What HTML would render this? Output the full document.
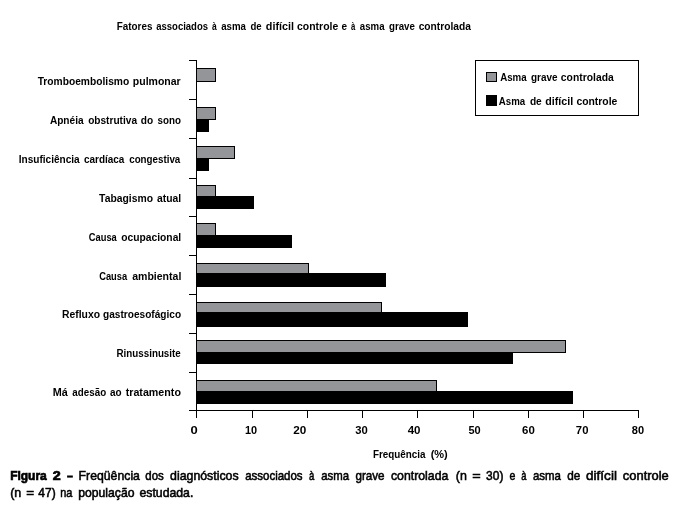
<!DOCTYPE html>
<html lang="pt">
<head>
<meta charset="utf-8">
<title>Figura 2</title>
<style>
html,body{margin:0;padding:0;background:#fff;}
body{width:676px;height:509px;overflow:hidden;}
svg{display:block;font-family:"Liberation Sans", "DejaVu Sans", sans-serif;fill:#000;}
svg rect{shape-rendering:crispEdges;}
svg text{white-space:pre;}
svg text.t{font-weight:bold;}
svg text.c{stroke:#000;stroke-width:0.55px;}
svg tspan.b{font-weight:bold;stroke-width:0.7px;}
</style>
</head>
<body>
<svg width="676" height="509" viewBox="0 0 676 509">
<rect x="0" y="0" width="676" height="509" fill="#fff"/>
<!-- title -->
<text class="t" y="30.00" font-size="11.6"><tspan x="116.78" textLength="35.66" lengthAdjust="spacingAndGlyphs">Fatores</tspan> <tspan x="156.18" textLength="51.88" lengthAdjust="spacingAndGlyphs">associados</tspan> <tspan x="212.07" textLength="4.75" lengthAdjust="spacingAndGlyphs">à</tspan> <tspan x="221.18" textLength="24.69" lengthAdjust="spacingAndGlyphs">asma</tspan> <tspan x="250.48" textLength="11.21" lengthAdjust="spacingAndGlyphs">de</tspan> <tspan x="265.87" textLength="28.22" lengthAdjust="spacingAndGlyphs">difícil</tspan> <tspan x="297.05" textLength="41.17" lengthAdjust="spacingAndGlyphs">controle</tspan> <tspan x="341.60" textLength="5.58" lengthAdjust="spacingAndGlyphs">e</tspan> <tspan x="351.09" textLength="4.32" lengthAdjust="spacingAndGlyphs">à</tspan> <tspan x="359.87" textLength="24.68" lengthAdjust="spacingAndGlyphs">asma</tspan> <tspan x="389.00" textLength="25.93" lengthAdjust="spacingAndGlyphs">grave</tspan> <tspan x="418.63" textLength="52.21" lengthAdjust="spacingAndGlyphs">controlada</tspan></text>
<!-- axes -->
<rect x="196" y="60" width="1" height="351"/>
<rect x="189" y="60" width="7" height="1"/>
<rect x="189" y="99" width="7" height="1"/>
<rect x="189" y="138" width="7" height="1"/>
<rect x="189" y="178" width="7" height="1"/>
<rect x="189" y="216" width="7" height="1"/>
<rect x="189" y="255" width="7" height="1"/>
<rect x="189" y="294" width="7" height="1"/>
<rect x="189" y="333" width="7" height="1"/>
<rect x="189" y="372" width="7" height="1"/>
<rect x="189" y="410" width="450" height="1"/>
<rect x="196" y="411" width="1" height="7"/>
<rect x="252" y="411" width="1" height="7"/>
<rect x="307" y="411" width="1" height="7"/>
<rect x="362" y="411" width="1" height="7"/>
<rect x="417" y="411" width="1" height="7"/>
<rect x="473" y="411" width="1" height="7"/>
<rect x="528" y="411" width="1" height="7"/>
<rect x="583" y="411" width="1" height="7"/>
<rect x="638" y="411" width="1" height="7"/>
<!-- bars -->
<rect x="196" y="68" width="20" height="14"/>
<rect x="197" y="69" width="18" height="12" fill="#939598"/>
<rect x="196" y="107" width="20" height="13"/>
<rect x="197" y="108" width="18" height="11" fill="#939598"/>
<rect x="196" y="119" width="13" height="13"/>
<rect x="196" y="146" width="39" height="13"/>
<rect x="197" y="147" width="37" height="11" fill="#939598"/>
<rect x="196" y="158" width="13" height="13"/>
<rect x="196" y="185" width="20" height="12"/>
<rect x="197" y="186" width="18" height="10" fill="#939598"/>
<rect x="196" y="196" width="58" height="13"/>
<rect x="196" y="223" width="20" height="13"/>
<rect x="197" y="224" width="18" height="11" fill="#939598"/>
<rect x="196" y="235" width="96" height="13"/>
<rect x="196" y="263" width="113" height="11"/>
<rect x="197" y="264" width="111" height="9" fill="#939598"/>
<rect x="196" y="273" width="190" height="14"/>
<rect x="196" y="302" width="186" height="11"/>
<rect x="197" y="303" width="184" height="9" fill="#939598"/>
<rect x="196" y="312" width="272" height="15"/>
<rect x="196" y="340" width="370" height="13"/>
<rect x="197" y="341" width="368" height="11" fill="#939598"/>
<rect x="196" y="352" width="317" height="12"/>
<rect x="196" y="380" width="241" height="12"/>
<rect x="197" y="381" width="239" height="10" fill="#939598"/>
<rect x="196" y="391" width="377" height="13"/>
<!-- category labels -->
<text class="t" y="85.00" font-size="11.6"><tspan x="37.63" textLength="91.59" lengthAdjust="spacingAndGlyphs">Tromboembolismo</tspan> <tspan x="132.86" textLength="47.82" lengthAdjust="spacingAndGlyphs">pulmonar</tspan></text>
<text class="t" y="124.00" font-size="11.6"><tspan x="49.88" textLength="33.68" lengthAdjust="spacingAndGlyphs">Apnéia</tspan> <tspan x="88.15" textLength="48.89" lengthAdjust="spacingAndGlyphs">obstrutiva</tspan> <tspan x="140.83" textLength="12.37" lengthAdjust="spacingAndGlyphs">do</tspan> <tspan x="157.48" textLength="23.42" lengthAdjust="spacingAndGlyphs">sono</tspan></text>
<text class="t" y="163.20" font-size="11.6"><tspan x="18.73" textLength="60.98" lengthAdjust="spacingAndGlyphs">Insuficiência</tspan> <tspan x="84.00" textLength="40.41" lengthAdjust="spacingAndGlyphs">cardíaca</tspan> <tspan x="129.20" textLength="51.11" lengthAdjust="spacingAndGlyphs">congestiva</tspan></text>
<text class="t" y="202.00" font-size="11.6"><tspan x="99.10" textLength="53.90" lengthAdjust="spacingAndGlyphs">Tabagismo</tspan> <tspan x="157.02" textLength="24.09" lengthAdjust="spacingAndGlyphs">atual</tspan></text>
<text class="t" y="241.00" font-size="11.6"><tspan x="88.76" textLength="28.04" lengthAdjust="spacingAndGlyphs">Causa</tspan> <tspan x="121.27" textLength="59.96" lengthAdjust="spacingAndGlyphs">ocupacional</tspan></text>
<text class="t" y="280.00" font-size="11.6"><tspan x="99.20" textLength="28.02" lengthAdjust="spacingAndGlyphs">Causa</tspan> <tspan x="132.16" textLength="49.20" lengthAdjust="spacingAndGlyphs">ambiental</tspan></text>
<text class="t" y="318.00" font-size="11.6"><tspan x="61.98" textLength="38.01" lengthAdjust="spacingAndGlyphs">Refluxo</tspan> <tspan x="103.07" textLength="78.08" lengthAdjust="spacingAndGlyphs">gastroesofágico</tspan></text>
<text class="t" y="357.00" font-size="11.6"><tspan x="116.49" textLength="64.28" lengthAdjust="spacingAndGlyphs">Rinussinusite</tspan></text>
<text class="t" y="396.00" font-size="11.6"><tspan x="52.78" textLength="15.05" lengthAdjust="spacingAndGlyphs">Má</tspan> <tspan x="72.35" textLength="33.78" lengthAdjust="spacingAndGlyphs">adesão</tspan> <tspan x="109.94" textLength="11.62" lengthAdjust="spacingAndGlyphs">ao</tspan> <tspan x="125.67" textLength="55.27" lengthAdjust="spacingAndGlyphs">tratamento</tspan></text>
<!-- x tick labels -->
<text class="t" y="434.00" font-size="11.2"><tspan x="190.59" textLength="7.23" lengthAdjust="spacingAndGlyphs">0</tspan></text>
<text class="t" y="434.00" font-size="11.2"><tspan x="244.93" textLength="12.16" lengthAdjust="spacingAndGlyphs">10</tspan></text>
<text class="t" y="434.00" font-size="11.2"><tspan x="293.33" textLength="13.05" lengthAdjust="spacingAndGlyphs">20</tspan></text>
<text class="t" y="434.00" font-size="11.2"><tspan x="355.35" textLength="12.53" lengthAdjust="spacingAndGlyphs">30</tspan></text>
<text class="t" y="434.00" font-size="11.2"><tspan x="407.70" textLength="12.84" lengthAdjust="spacingAndGlyphs">40</tspan></text>
<text class="t" y="434.00" font-size="11.2"><tspan x="468.49" textLength="12.23" lengthAdjust="spacingAndGlyphs">50</tspan></text>
<text class="t" y="434.00" font-size="11.2"><tspan x="522.13" textLength="12.73" lengthAdjust="spacingAndGlyphs">60</tspan></text>
<text class="t" y="434.00" font-size="11.2"><tspan x="575.87" textLength="12.58" lengthAdjust="spacingAndGlyphs">70</tspan></text>
<text class="t" y="434.00" font-size="11.2"><tspan x="631.80" textLength="12.28" lengthAdjust="spacingAndGlyphs">80</tspan></text>
<text class="t" y="457.60" font-size="11.6"><tspan x="372.99" textLength="52.57" lengthAdjust="spacingAndGlyphs">Frequência</tspan> <tspan x="430.66" textLength="17.11" lengthAdjust="spacingAndGlyphs">(%)</tspan></text>
<!-- legend -->
<rect x="475" y="60" width="164" height="56"/>
<rect x="476" y="61" width="162" height="54" fill="#fff"/>
<rect x="486" y="72" width="11" height="10"/>
<rect x="487" y="73" width="9" height="8" fill="#939598"/>
<rect x="486" y="95" width="11" height="11"/>
<text class="t" y="80.70" font-size="11.6"><tspan x="500.15" textLength="26.49" lengthAdjust="spacingAndGlyphs">Asma</tspan> <tspan x="530.94" textLength="26.55" lengthAdjust="spacingAndGlyphs">grave</tspan> <tspan x="560.85" textLength="52.85" lengthAdjust="spacingAndGlyphs">controlada</tspan></text>
<text class="t" y="104.60" font-size="11.6"><tspan x="498.86" textLength="26.39" lengthAdjust="spacingAndGlyphs">Asma</tspan> <tspan x="529.89" textLength="11.88" lengthAdjust="spacingAndGlyphs">de</tspan> <tspan x="545.18" textLength="27.93" lengthAdjust="spacingAndGlyphs">difícil</tspan> <tspan x="576.38" textLength="40.94" lengthAdjust="spacingAndGlyphs">controle</tspan></text>
<!-- caption -->
<text class="c" y="480.10" font-size="12.8"><tspan x="10.13" textLength="36.67" lengthAdjust="spacingAndGlyphs" class="b">Figura</tspan> <tspan x="52.70" textLength="7.99" lengthAdjust="spacingAndGlyphs" class="b">2</tspan> <tspan x="67.08" textLength="5.90" lengthAdjust="spacingAndGlyphs" class="b">–</tspan> <tspan x="78.60" textLength="61.35" lengthAdjust="spacingAndGlyphs">Freqüência</tspan> <tspan x="145.30" textLength="18.47" lengthAdjust="spacingAndGlyphs">dos</tspan> <tspan x="170.08" textLength="68.57" lengthAdjust="spacingAndGlyphs">diagnósticos</tspan> <tspan x="245.16" textLength="57.45" lengthAdjust="spacingAndGlyphs">associados</tspan> <tspan x="308.98" textLength="5.31" lengthAdjust="spacingAndGlyphs">à</tspan> <tspan x="321.17" textLength="27.80" lengthAdjust="spacingAndGlyphs">asma</tspan> <tspan x="355.43" textLength="29.12" lengthAdjust="spacingAndGlyphs">grave</tspan> <tspan x="390.98" textLength="57.36" lengthAdjust="spacingAndGlyphs">controlada</tspan> <tspan x="455.80" textLength="11.07" lengthAdjust="spacingAndGlyphs">(n</tspan> <tspan x="472.34" textLength="8.46" lengthAdjust="spacingAndGlyphs">=</tspan> <tspan x="486.11" textLength="17.30" lengthAdjust="spacingAndGlyphs">30)</tspan> <tspan x="509.53" textLength="5.88" lengthAdjust="spacingAndGlyphs">e</tspan> <tspan x="521.16" textLength="5.18" lengthAdjust="spacingAndGlyphs">à</tspan> <tspan x="532.91" textLength="28.00" lengthAdjust="spacingAndGlyphs">asma</tspan> <tspan x="567.29" textLength="13.08" lengthAdjust="spacingAndGlyphs">de</tspan> <tspan x="586.03" textLength="30.91" lengthAdjust="spacingAndGlyphs">difícil</tspan> <tspan x="622.83" textLength="45.93" lengthAdjust="spacingAndGlyphs">controle</tspan></text>
<text class="c" y="497.10" font-size="12.8"><tspan x="10.20" textLength="11.08" lengthAdjust="spacingAndGlyphs">(n</tspan> <tspan x="26.24" textLength="7.90" lengthAdjust="spacingAndGlyphs">=</tspan> <tspan x="38.34" textLength="17.32" lengthAdjust="spacingAndGlyphs">47)</tspan> <tspan x="60.28" textLength="12.15" lengthAdjust="spacingAndGlyphs">na</tspan> <tspan x="78.25" textLength="56.22" lengthAdjust="spacingAndGlyphs">população</tspan> <tspan x="139.43" textLength="53.94" lengthAdjust="spacingAndGlyphs">estudada.</tspan></text>
</svg>
</body>
</html>
